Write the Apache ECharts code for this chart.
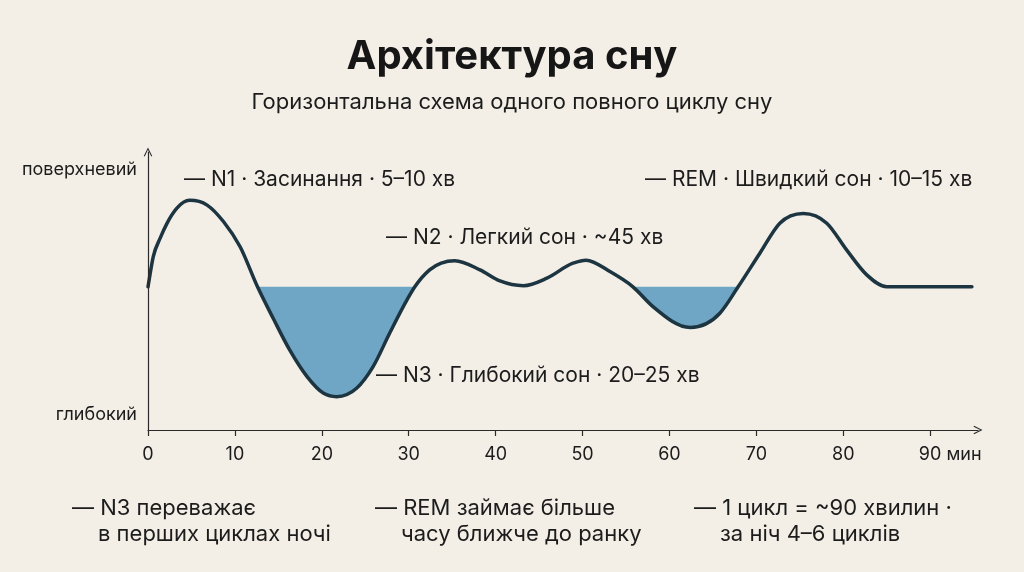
<!DOCTYPE html>
<html>
<head>
<meta charset="utf-8">
<script src="https://cdn.jsdelivr.net/npm/echarts@6/dist/echarts.min.js"></script>
<style>
  html, body { margin: 0; padding: 0; background: #f3efe7; }
  #chart { width: 1024px; height: 572px; }
</style>
</head>
<body>
<div id="chart"></div>
<script>
// хвилини циклу і "глибина" сну (0 = глибокий, 100 = поверхневий)
const minutes = [0, 0.6, 1.4, 2.2, 3.3, 4.8, 6.8, 8.7, 10.6, 12.6, 14.4, 16.3, 18.3, 20.2, 21.7, 24, 25.9, 27.8, 29.8, 30.7,
                 32.4, 35.3, 38.2, 40.5, 43.2, 45.9, 48.9, 50.4, 53.2, 55.8, 58.1, 62.4, 65.8, 67.9,
                 70.4, 72.7, 75.4, 78.1, 80.4, 82.7, 85, 94.8];
const depth = [51.5, 62.3, 69.0, 74.4, 79.7, 82.6, 80.9, 74.9, 65.9, 51.5, 40.2, 28.8, 19.2, 13.2, 12.0, 15.0, 22.8, 34.8, 46.8, 51.5,
               57.6, 60.9, 57.6, 53.6, 51.9, 54.6, 60.0, 61.1, 56.9, 51.5, 44.4, 36.9, 42.0, 51.5,
               63.6, 74.4, 77.9, 74.4, 64.7, 55.8, 51.5, 51.5];
const baseline = 51.5;
const xTicks = [0, 10, 20, 30, 40, 50, 60, 70, 80, 90];
const yLabels = { 93.5: 'поверхневий', 5.4: 'глибокий' };

const stageLabels = [
    { text: '— N1 · Засинання · 5–10 хв', x: 184, y: 180 },
    { text: '— N2 · Легкий сон · ~45 хв', x: 386, y: 238 },
    { text: '— N3 · Глибокий сон · 20–25 хв', x: 376, y: 376 },
    { text: '— REM · Швидкий сон · 10–15 хв', x: 645, y: 180 }
];
const notes = [
    ['— N3 переважає', 'в перших циклах ночі', 72],
    ['— REM займає більше', 'часу ближче до ранку', 375],
    ['— 1 цикл = ~90 хвилин ·', 'за ніч 4–6 циклів', 694]
];

const bg = '#f3efe7';
const arrow = 'path://M0,10 L5,0 L10,10 L8.9,10.7 L5,2.7 L1.1,10.7 Z';
const font = 'Inter, "Noto Sans", sans-serif';
const ink = '#1c1c1c';

// кубічний сплайн Ерміта по пікселях; на вершинах і западинах дотична горизонтальна
function splineSegments(pts) {
    const n = pts.length;
    const h = [], s = [], m = [];
    for (let i = 0; i < n - 1; i++) {
        h[i] = pts[i + 1][0] - pts[i][0];
        s[i] = (pts[i + 1][1] - pts[i][1]) / h[i];
    }
    m[0] = s[0];
    m[n - 1] = s[n - 2];
    for (let i = 1; i < n - 1; i++) {
        const s0 = s[i - 1], s1 = s[i];
        if (s0 * s1 <= 0) { m[i] = 0; continue; }
        m[i] = (s0 * h[i] + s1 * h[i - 1]) / (h[i - 1] + h[i]);
    }
    const segs = [];
    for (let i = 0; i < n - 1; i++) {
        const d = h[i] / 3;
        segs.push(' C' + (pts[i][0] + d) + ',' + (pts[i][1] + m[i] * d) + ' ' +
            (pts[i + 1][0] - d) + ',' + (pts[i + 1][1] - m[i + 1] * d) + ' ' +
            pts[i + 1][0] + ',' + pts[i + 1][1]);
    }
    return segs;
}

// відрізки, де крива нижче базової лінії (від перетину до перетину)
function deepRuns() {
    const runs = [];
    let start = -1;
    depth.forEach((v, i) => {
        if (v < baseline && start < 0) start = i - 1;
        if (v >= baseline && start >= 0) { runs.push([start, i]); start = -1; }
    });
    return runs;
}

const chart = echarts.init(document.getElementById('chart'));

const graphics = [];
stageLabels.forEach(l => {
    graphics.push({ type: 'text', x: l.x, y: l.y,
        style: { text: l.text, font: '21px ' + font, fill: ink, verticalAlign: 'middle' } });
});
notes.forEach(n => {
    graphics.push({ type: 'text', x: n[2], y: 508,
        style: { text: n[0], font: '22px ' + font, fill: ink, verticalAlign: 'middle' } });
    graphics.push({ type: 'text', x: n[2] + 26, y: 534,
        style: { text: n[1], font: '22px ' + font, fill: ink, verticalAlign: 'middle' } });
});

chart.setOption({
    backgroundColor: bg,
    animation: false,
    title: {
        text: 'Архітектура сну',
        subtext: 'Горизонтальна схема одного повного циклу сну',
        left: 'center',
        top: 32,
        itemGap: 14,
        textStyle: { fontFamily: font, fontSize: 40, fontWeight: 'bold', color: '#161616' },
        subtextStyle: { fontFamily: font, fontSize: 22, color: ink }
    },
    grid: { left: 148, right: 46, top: 152, bottom: 142 },
    xAxis: {
        type: 'value',
        min: 0,
        max: 95.5,
        z: 10,
        axisLine: { show: true, symbol: ['none', arrow], symbolSize: [10, 9], lineStyle: { color: '#2a2a2a', width: 1.2 } },
        axisTick: { show: true, customValues: xTicks, length: 6, lineStyle: { color: '#2a2a2a', width: 1.2 } },
        axisLabel: {
            customValues: xTicks,
            margin: 16,
            fontFamily: font,
            fontSize: 18,
            color: ink,
            formatter: v => v === 90 ? '{u|90 мин}' : String(v),
            rich: { u: { fontFamily: font, fontSize: 18, color: ink, padding: [0, 0, 0, 40] } }
        },
        splitLine: { show: false }
    },
    yAxis: {
        type: 'value',
        min: 0,
        max: 100,
        z: 10,
        axisLine: { show: true, symbol: ['none', arrow], symbolSize: [10, 9], lineStyle: { color: '#2a2a2a', width: 1.2 } },
        axisTick: { show: false },
        axisLabel: {
            customValues: [5.4, 93.5],
            margin: 11,
            fontFamily: font,
            fontSize: 18,
            color: ink,
            formatter: v => yLabels[v] || ''
        },
        splitLine: { show: false }
    },
    series: [{
        type: 'custom',
        coordinateSystem: 'cartesian2d',
        data: minutes.map((m, i) => [m, depth[i]]),
        encode: { x: 0, y: 1 },
        clip: false,
        renderItem: (params, api) => {
            if (params.dataIndex !== 0) return null;
            const pts = minutes.map((m, i) => api.coord([m, depth[i]]));
            const segs = splineSegments(pts);
            const children = deepRuns().map(([a, b]) => ({
                type: 'path',
                shape: { pathData: 'M' + pts[a][0] + ',' + pts[a][1] + segs.slice(a, b).join('') + ' Z' },
                style: { fill: '#6fa6c6', stroke: 'none' }
            }));
            children.push({
                type: 'path',
                shape: { pathData: 'M' + pts[0][0] + ',' + pts[0][1] + segs.join('') },
                style: { fill: 'none', stroke: '#1d3441', lineWidth: 3.5, lineCap: 'round', lineJoin: 'round' }
            });
            return { type: 'group', children: children };
        }
    }],
    graphic: graphics
});
</script>
</body>
</html>
